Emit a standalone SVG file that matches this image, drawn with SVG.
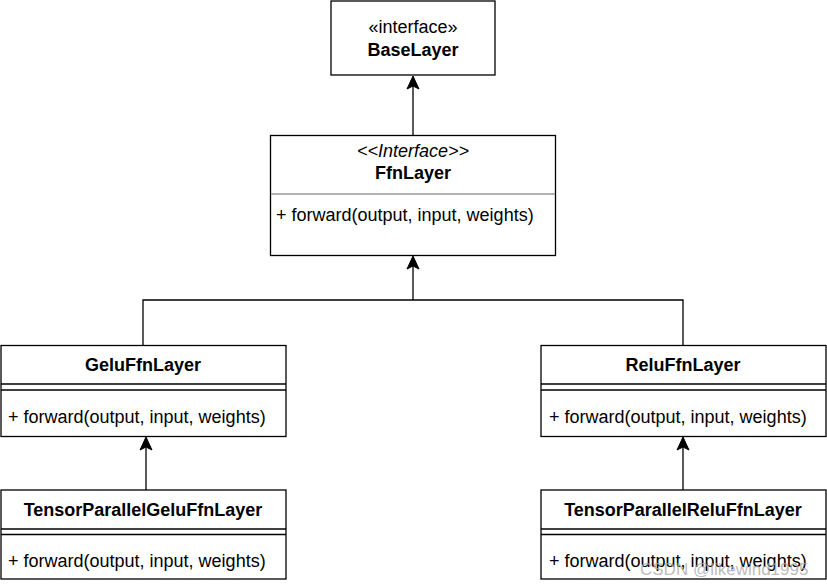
<svg xmlns="http://www.w3.org/2000/svg" width="827" height="585" viewBox="0 0 827 585">
<style>
.box{fill:#fff;stroke:#000;stroke-width:1.3}
.ln{stroke:#000;stroke-width:1.3;fill:none}
.ah{fill:#000;stroke:#000;stroke-width:1}
.gl{stroke:#999;stroke-width:1.3}
.t{font-family:"Liberation Sans",Arial,sans-serif;font-size:18px;fill:#000}
.b{font-weight:bold;text-anchor:middle}
.c{text-anchor:middle}
.wm{font-family:"Liberation Sans",Arial,sans-serif;font-size:17px;fill:#aaa;fill-opacity:0.8}
</style>
<rect width="827" height="585" fill="#fff"/>
<g id="connectors">
<path class="ln" d="M413,135 L413,78"/>
<path class="ln" d="M143,345 L143,300 L683,300 L683,345"/>
<path class="ln" d="M413,300 L413,258"/>
<path class="ln" d="M146,490 L146,439"/>
<path class="ln" d="M683,490 L683,439"/>
<path class="ah" d="M413,76 L419,89 L413,86 L407,89 Z"/>
<path class="ah" d="M413,256 L419,269 L413,266 L407,269 Z"/>
<path class="ah" d="M146,437 L152,450 L146,447 L140,450 Z"/>
<path class="ah" d="M683,437 L689,450 L683,447 L677,450 Z"/>
</g>
<g id="BaseLayer">
<rect class="box" x="331" y="1" width="164" height="74"/>
<text class="t c" x="413" y="33" fill="#333">«interface»</text>
<text class="t b" x="413" y="56">BaseLayer</text>
</g>
<g id="FfnLayer">
<rect class="box" x="270.5" y="135.5" width="285" height="120"/>
<line class="gl" x1="271" y1="194" x2="555" y2="194"/>
<text class="t c" x="413" y="157" font-style="italic">&lt;&lt;Interface&gt;&gt;</text>
<text class="t b" x="413" y="179">FfnLayer</text>
<text class="t" x="276" y="221">+ forward(output, input, weights)</text>
</g>
<g id="GeluFfnLayer">
<rect class="box" x="1" y="345.5" width="285" height="91"/>
<line class="ln" x1="1" y1="384" x2="286" y2="384"/>
<line class="ln" x1="1" y1="390" x2="286" y2="390"/>
<text class="t b" x="143" y="371">GeluFfnLayer</text>
<text class="t" x="8" y="423">+ forward(output, input, weights)</text>
</g>
<g id="ReluFfnLayer">
<rect class="box" x="541" y="345.5" width="285" height="91"/>
<line class="ln" x1="541" y1="384" x2="826" y2="384"/>
<line class="ln" x1="541" y1="390" x2="826" y2="390"/>
<text class="t b" x="683" y="371">ReluFfnLayer</text>
<text class="t" x="549" y="423">+ forward(output, input, weights)</text>
</g>
<g id="TensorParallelGeluFfnLayer">
<rect class="box" x="1" y="490" width="285" height="89"/>
<line class="ln" x1="1" y1="529" x2="286" y2="529"/>
<line class="ln" x1="1" y1="534.5" x2="286" y2="534.5"/>
<text class="t b" x="143" y="516">TensorParallelGeluFfnLayer</text>
<text class="t" x="8" y="567">+ forward(output, input, weights)</text>
</g>
<g id="TensorParallelReluFfnLayer">
<rect class="box" x="541" y="490" width="285" height="89"/>
<line class="ln" x1="541" y1="529" x2="826" y2="529"/>
<line class="ln" x1="541" y1="534.5" x2="826" y2="534.5"/>
<text class="t b" x="683" y="516">TensorParallelReluFfnLayer</text>
<text class="t" x="549" y="567">+ forward(output, input, weights)</text>
</g>
<text class="wm" x="640" y="575">CSDN @likewind1995</text>
</svg>
